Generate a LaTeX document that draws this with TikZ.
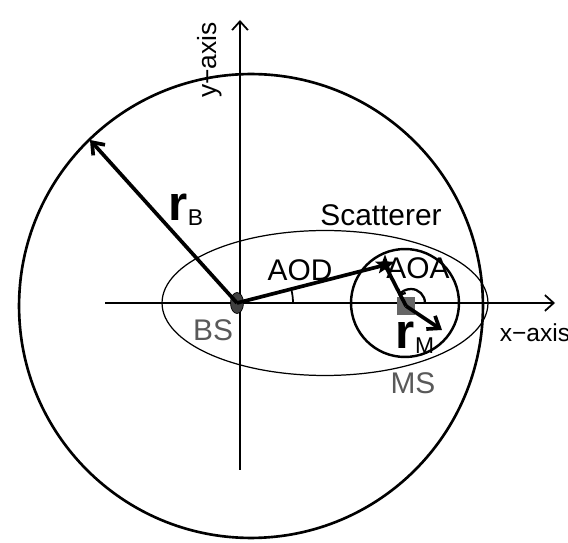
\documentclass[tikz,border=0pt]{standalone}
\usepackage{fontspec}
\setmainfont{Liberation Sans}
\usetikzlibrary{arrows.meta,shapes.geometric}

\begin{document}
\begin{tikzpicture}[x=0.02cm,y=-0.02cm,
  lbl/.style={font=\fontsize{15}{15}\selectfont},
  graylbl/.style={lbl,text=black!65},
  thickline/.style={line width=2.1pt},
  vecarrow/.style={thickline,-{Straight Barb[length=6pt,width=9pt,line width=2.1pt]}},
  axisarrow/.style={line width=1pt,-{Straight Barb[length=5pt,width=9pt]}}]
\useasboundingbox (0,0) rectangle (568,543);

% points
\coordinate (bs) at (237,303);
\coordinate (ms) at (406,306);
\coordinate (aoactr) at (411,303);
\coordinate (sc) at (385,265);
\coordinate (rbtip) at (90,140);
\coordinate (rmtip) at (442,330);
\coordinate (xstart) at (105,303);
\coordinate (xend) at (555,303);
\coordinate (ystart) at (240,470);
\coordinate (yend) at (240,20);

% circles and ellipse
\draw[line width=1.5pt] (251,306) circle (4.64cm);
\draw[line width=0.7pt] (325,303) ellipse (3.26cm and 1.45cm);
\draw[line width=1.4pt] (405,303) circle (1.08cm);

% axes
\draw[axisarrow] (xstart) -- (xend);
\draw[axisarrow] (ystart) -- (yend);

% BS and MS
\node[ellipse,draw,fill=black!75,minimum width=0.26cm,minimum height=0.42cm,inner sep=0pt] (bsmark) at (bs) {};
\node[rectangle,fill=black!60,minimum size=0.36cm,inner sep=0pt] (msmark) at (ms) {};

% paths
\draw[thickline] (bs) -- (sc);
\draw[thickline] (sc) -- (ms);
\draw[vecarrow] (bs) -- (rbtip);
\draw[vecarrow] (ms) -- (rmtip);
\node[star,star points=5,star point ratio=2.4,fill=black,inner sep=0pt,minimum size=0.42cm] (scmark) at (sc) {};

% angles
\draw[line width=1pt] (bs) ++(0:1.12cm) arc[start angle=0,end angle=13,radius=1.12cm];
\draw[line width=1.3pt,-{Straight Barb[length=2.5pt,width=5pt]}] (aoactr) ++(0:0.28cm) arc[start angle=0,end angle=150,radius=0.28cm];

% labels
\node[lbl,rotate=90] (ylbl) at (210,60) {y−axis};
\node[lbl,font=\fontsize{14}{14}\selectfont] (xlbl) at (535,333) {x−axis};
\node[lbl,font=\fontsize{17}{17}\selectfont] (sclbl) at (381,215) {Scatterer};
\node[lbl,font=\fontsize{17}{17}\selectfont] (aodlbl) at (300,270) {AOD};
\node[lbl,font=\fontsize{17}{17}\selectfont] (aoalbl) at (418,268) {AOA};
\node[graylbl,font=\fontsize{17}{17}\selectfont] (bslbl) at (213,330) {BS};
\node[graylbl,font=\fontsize{17}{17}\selectfont] (mslbl) at (413,383) {MS};
\node (rblbl) at (186,210) {{\fontsize{28}{28}\selectfont\bfseries r}\raisebox{-3pt}{\fontsize{13}{13}\selectfont B}};
\node (rmlbl) at (415,338) {{\fontsize{28}{28}\selectfont\bfseries r}\raisebox{-3pt}{\fontsize{13}{13}\selectfont M}};
\end{tikzpicture}
\end{document}
